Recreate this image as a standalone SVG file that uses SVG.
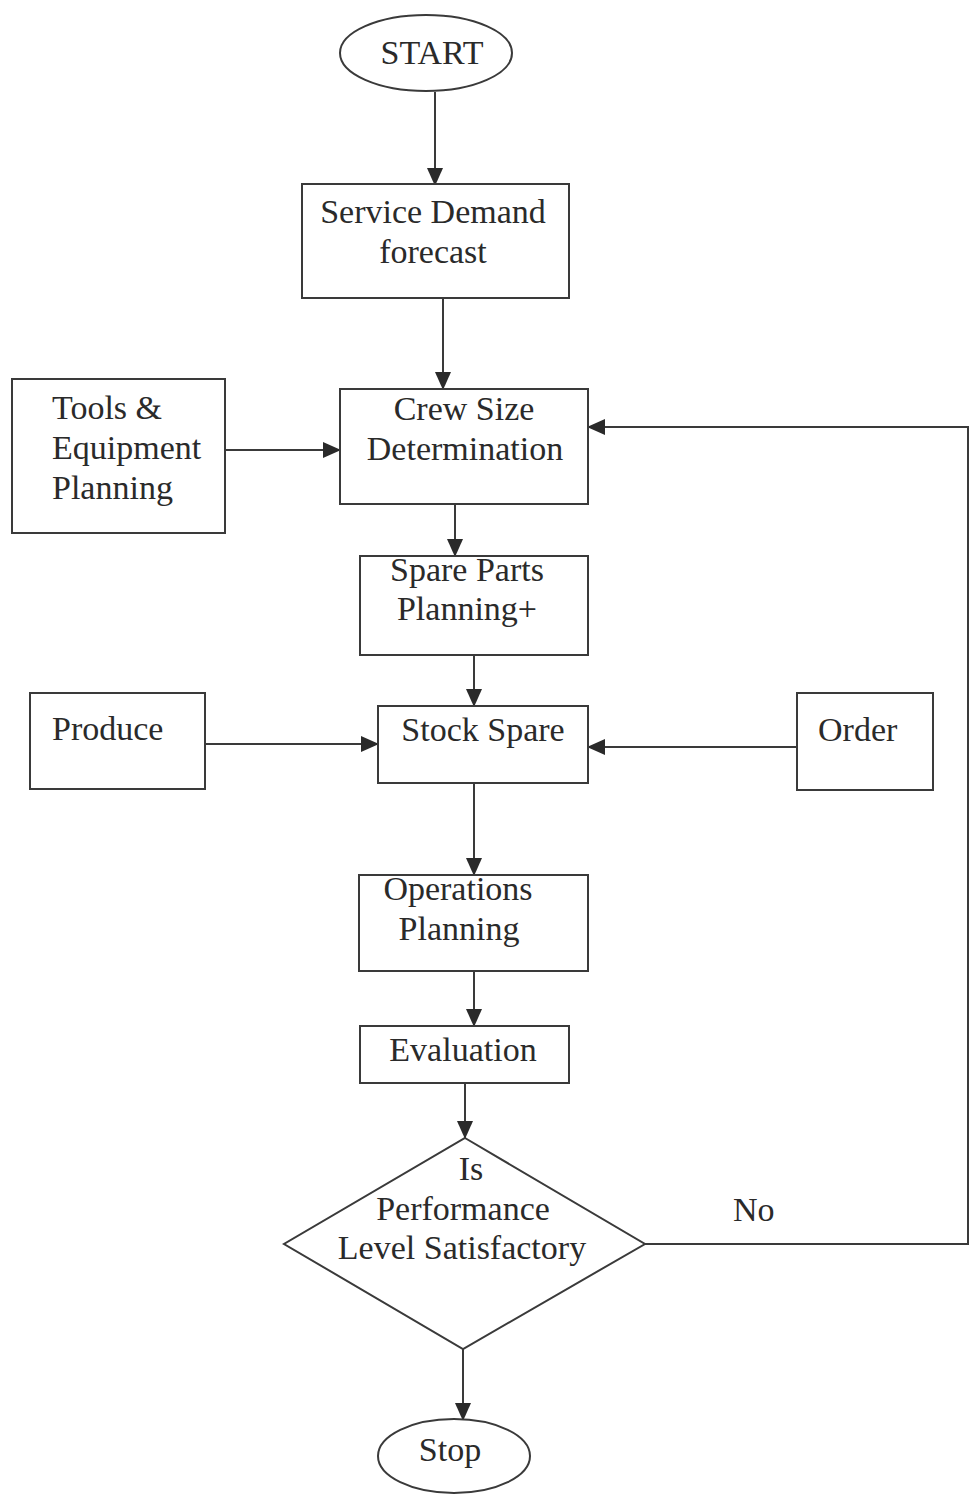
<svg xmlns="http://www.w3.org/2000/svg" width="971" height="1495" viewBox="0 0 971 1495">
<style>
.n{fill:#fff;stroke:#3a3a3a;stroke-width:2}
.t{font-family:"Liberation Serif","Times New Roman",serif;font-size:34px;fill:#2a2a2a}
.c{text-anchor:middle}
.e{fill:none;stroke:#3a3a3a;stroke-width:2}
</style>
<defs>
<marker id="ah" markerUnits="userSpaceOnUse" markerWidth="18" markerHeight="18" viewBox="0 0 18 18" refX="17" refY="9" orient="auto">
<path d="M0,1 L18,9 L0,17 Z" fill="#2a2a2a"/>
</marker>
</defs>
<rect width="971" height="1495" fill="#fff"/>
<g id="connectors">
<line class="e" x1="435" y1="92" x2="435" y2="185" marker-end="url(#ah)"/>
<line class="e" x1="443" y1="298" x2="443" y2="389" marker-end="url(#ah)"/>
<line class="e" x1="225" y1="450" x2="340" y2="450" marker-end="url(#ah)"/>
<line class="e" x1="455" y1="504" x2="455" y2="556" marker-end="url(#ah)"/>
<line class="e" x1="474" y1="655" x2="474" y2="706" marker-end="url(#ah)"/>
<line class="e" x1="205" y1="744" x2="378" y2="744" marker-end="url(#ah)"/>
<line class="e" x1="797" y1="747" x2="588" y2="747" marker-end="url(#ah)"/>
<line class="e" x1="474" y1="783" x2="474" y2="875" marker-end="url(#ah)"/>
<line class="e" x1="474" y1="971" x2="474" y2="1026" marker-end="url(#ah)"/>
<line class="e" x1="465" y1="1083" x2="465" y2="1138" marker-end="url(#ah)"/>
<line class="e" x1="463" y1="1349" x2="463" y2="1420" marker-end="url(#ah)"/>
<polyline class="e" points="645,1244 968,1244 968,427 588,427" marker-end="url(#ah)"/>
<text class="t" x="733" y="1221">No</text>
</g>
<g id="start">
<ellipse class="n" cx="426" cy="53" rx="86" ry="38"/>
<text class="t c" x="432" y="64">START</text>
</g>
<g id="service-demand">
<rect class="n" x="302" y="184" width="267" height="114"/>
<text class="t c" x="433" y="223">Service Demand</text>
<text class="t c" x="433" y="263">forecast</text>
</g>
<g id="tools">
<rect class="n" x="12" y="379" width="213" height="154"/>
<text class="t" x="52" y="419">Tools &amp;</text>
<text class="t" x="52" y="459">Equipment</text>
<text class="t" x="52" y="499">Planning</text>
</g>
<g id="crew-size">
<rect class="n" x="340" y="389" width="248" height="115"/>
<text class="t c" x="464" y="420">Crew Size</text>
<text class="t c" x="465" y="460">Determination</text>
</g>
<g id="spare-parts">
<rect class="n" x="360" y="556" width="228" height="99"/>
<text class="t c" x="467" y="581">Spare Parts</text>
<text class="t c" x="467" y="620">Planning+</text>
</g>
<g id="produce">
<rect class="n" x="30" y="693" width="175" height="96"/>
<text class="t" x="52" y="740">Produce</text>
</g>
<g id="stock-spare">
<rect class="n" x="378" y="706" width="210" height="77"/>
<text class="t c" x="483" y="741">Stock Spare</text>
</g>
<g id="order">
<rect class="n" x="797" y="693" width="136" height="97"/>
<text class="t" x="818" y="741">Order</text>
</g>
<g id="operations">
<rect class="n" x="359" y="875" width="229" height="96"/>
<text class="t c" x="458" y="900">Operations</text>
<text class="t c" x="459" y="940">Planning</text>
</g>
<g id="evaluation">
<rect class="n" x="360" y="1026" width="209" height="57"/>
<text class="t c" x="463" y="1061">Evaluation</text>
</g>
<g id="decision">
<polygon class="n" points="465,1138 645,1244 463,1349 284,1244"/>
<text class="t c" x="471" y="1180">Is</text>
<text class="t c" x="463" y="1220">Performance</text>
<text class="t c" x="462" y="1259">Level Satisfactory</text>
</g>
<g id="stop">
<ellipse class="n" cx="454" cy="1456" rx="76" ry="37"/>
<text class="t c" x="450" y="1461">Stop</text>
</g>
</svg>
